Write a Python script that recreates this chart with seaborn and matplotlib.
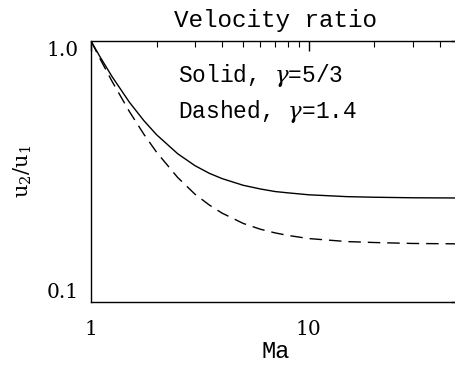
import numpy as np
import pandas as pd
import seaborn as sns
import matplotlib
matplotlib.use("Agg")
import matplotlib.pyplot as plt
from matplotlib.ticker import FixedLocator, NullFormatter, FixedFormatter

# Data
mach = [1.0, 1.1, 1.25, 1.5, 1.75, 2.0, 2.5, 3.0, 3.5, 4.0, 5.0, 6.0, 7.0, 8.0, 10.0, 15.0, 20.0, 30.0, 50.0]
ratio_53 = [1.0, 0.870, 0.730, 0.583, 0.495, 0.4375, 0.370, 0.333, 0.311, 0.297, 0.280, 0.271, 0.265, 0.262,
            0.2575, 0.2533, 0.252, 0.2508, 0.2503]
ratio_14 = [1.0, 0.855, 0.700, 0.537, 0.439, 0.375, 0.300, 0.259, 0.235, 0.219, 0.200, 0.190, 0.184, 0.180,
            0.175, 0.1704, 0.169, 0.1676, 0.167]
series_names = ["Solid, $\\gamma$=5/3", "Dashed, $\\gamma$=1.4"]

df = pd.DataFrame({
    "Ma": mach * 2,
    "ratio": ratio_53 + ratio_14,
    "gamma": [series_names[0]] * len(mach) + [series_names[1]] * len(mach),
})

sns.set_theme(style="white")
plt.rcParams["font.family"] = ["DejaVu Serif"]
plt.rcParams["mathtext.fontset"] = "dejavuserif"
MONO = ["Liberation Mono", "DejaVu Serif"]

fig = plt.figure(figsize=(4.56, 3.66), dpi=100)
ax = fig.add_axes([91 / 456, 64 / 366, 370 / 456, 261 / 366])

sns.lineplot(data=df, x="Ma", y="ratio", style="gamma", color="black",
             dashes={series_names[0]: "", series_names[1]: (9, 5)},
             linewidth=1.0, legend=False, ax=ax, estimator=None)

ax.set_xscale("log")
ax.set_yscale("log")
ax.set_xlim(1, 50)
ax.set_ylim(0.1, 1.0)

for s in ax.spines.values():
    s.set_color("black")
    s.set_linewidth(1.0)

ax.xaxis.set_major_locator(FixedLocator([1, 10]))
ax.xaxis.set_major_formatter(FixedFormatter(["1", "10"]))
ax.xaxis.set_minor_locator(FixedLocator([2, 3, 4, 5, 6, 7, 8, 9, 20, 30, 40]))
ax.xaxis.set_minor_formatter(NullFormatter())
ax.yaxis.set_major_locator(FixedLocator([0.1, 1.0]))
ax.yaxis.set_major_formatter(FixedFormatter(["0.1", "1.0"]))
ax.yaxis.set_minor_locator(FixedLocator([0.2, 0.3, 0.4, 0.5, 0.6, 0.7, 0.8, 0.9]))
ax.yaxis.set_minor_formatter(NullFormatter())

ax.tick_params(which="both", direction="in", top=True, right=True, color="black",
               labelsize=14.5, labelcolor="black")
ax.tick_params(which="major", length=7, width=1.0)
ax.tick_params(which="minor", length=4, width=0.8)
ax.tick_params(axis="x", which="major", pad=13)
ax.tick_params(axis="y", which="major", pad=9)

fig.canvas.draw()
ylabels = ax.get_yticklabels()
ylabels[0].set_va("bottom")
ylabels[1].set_va("top")

ax.set_title("Velocity ratio", fontsize=17.5, color="black", pad=10, family=MONO)
ax.set_xlabel("Ma", fontsize=17, color="black", labelpad=1, family=MONO)
ax.set_ylabel("u$_2$/u$_1$", fontsize=15, color="black", labelpad=9)

ax.text(0.235, 0.868, series_names[0], transform=ax.transAxes, fontsize=16.5, color="black",
        va="center", family=MONO)
ax.text(0.235, 0.73, series_names[1], transform=ax.transAxes, fontsize=16.5, color="black",
        va="center", family=MONO)

fig.savefig("out.png", dpi=100)
